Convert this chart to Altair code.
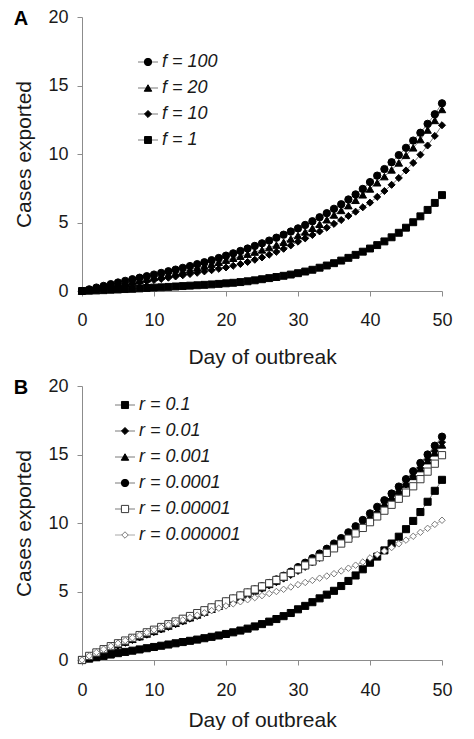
import altair as alt
import pandas as pd

days = list(range(51))

# ---------------- Panel A ----------------
f_labels = ["f = 100", "f = 20", "f = 10", "f = 1"]
f_100 = [0.00, 0.12, 0.25, 0.37, 0.50, 0.62, 0.74, 0.86, 0.97, 1.08,
         1.20, 1.32, 1.44, 1.56, 1.69, 1.82, 1.96, 2.10, 2.25, 2.41,
         2.58, 2.75, 2.92, 3.10, 3.29, 3.48, 3.68, 3.89, 4.11, 4.34,
         4.57, 4.82, 5.09, 5.38, 5.68, 6.00, 6.33, 6.68, 7.05, 7.45,
         7.95, 8.42, 8.90, 9.40, 9.92, 10.45, 10.98, 11.55, 12.20, 12.90,
         13.70]
f_20 = [0.00, 0.09, 0.19, 0.29, 0.39, 0.49, 0.59, 0.69, 0.79, 0.89,
        1.00, 1.10, 1.21, 1.32, 1.44, 1.56, 1.69, 1.82, 1.96, 2.10,
        2.25, 2.39, 2.54, 2.69, 2.84, 3.00, 3.17, 3.35, 3.56, 3.80,
        4.05, 4.31, 4.58, 4.87, 5.20, 5.55, 5.88, 6.23, 6.62, 7.02,
        7.45, 7.90, 8.35, 8.84, 9.35, 9.90, 10.45, 11.05, 11.75, 12.45,
        13.25]
f_10 = [0.00, 0.07, 0.15, 0.23, 0.31, 0.39, 0.47, 0.55, 0.63, 0.71,
        0.80, 0.88, 0.97, 1.06, 1.15, 1.24, 1.33, 1.43, 1.52, 1.62,
        1.72, 1.84, 1.97, 2.12, 2.28, 2.45, 2.65, 2.86, 3.08, 3.33,
        3.60, 3.84, 4.09, 4.35, 4.62, 4.90, 5.18, 5.48, 5.79, 6.11,
        6.45, 6.87, 7.30, 7.75, 8.25, 8.80, 9.35, 9.95, 10.62, 11.32,
        12.10]
f_1 = [0.00, 0.02, 0.04, 0.06, 0.09, 0.11, 0.14, 0.16, 0.19, 0.22,
       0.25, 0.27, 0.30, 0.33, 0.36, 0.39, 0.42, 0.45, 0.48, 0.52,
       0.56, 0.60, 0.65, 0.71, 0.78, 0.86, 0.94, 1.02, 1.11, 1.20,
       1.30, 1.42, 1.55, 1.70, 1.86, 2.03, 2.22, 2.42, 2.64, 2.87,
       3.10, 3.35, 3.62, 3.92, 4.25, 4.62, 5.02, 5.45, 5.92, 6.43,
       7.00]

# ---------------- Panel B ----------------
r_labels = ["r = 0.1", "r = 0.01", "r = 0.001", "r = 0.0001",
            "r = 0.00001", "r = 0.000001"]
r_0_1 = [0.00, 0.10, 0.20, 0.30, 0.40, 0.50, 0.59, 0.68, 0.77, 0.86,
         0.95, 1.04, 1.13, 1.22, 1.31, 1.40, 1.49, 1.59, 1.69, 1.79,
         1.90, 2.02, 2.15, 2.29, 2.45, 2.62, 2.80, 2.99, 3.20, 3.43,
         3.70, 3.95, 4.22, 4.50, 4.77, 5.05, 5.40, 5.77, 6.17, 6.62,
         7.10, 7.55, 8.00, 8.50, 9.00, 9.55, 10.15, 10.80, 11.55, 12.35,
         13.15]
r_0_01 = [0.00, 0.22, 0.44, 0.65, 0.86, 1.06, 1.26, 1.46, 1.65, 1.85,
          2.04, 2.23, 2.42, 2.62, 2.82, 3.02, 3.22, 3.43, 3.64, 3.86,
          4.08, 4.30, 4.52, 4.74, 4.97, 5.20, 5.44, 5.68, 5.94, 6.21,
          6.50, 6.80, 7.12, 7.45, 7.80, 8.16, 8.55, 8.96, 9.39, 9.84,
          10.30, 10.77, 11.25, 11.75, 12.27, 12.82, 13.40, 14.00, 14.62, 15.25,
          15.90]
r_0_001 = [0.00, 0.25, 0.48, 0.70, 0.91, 1.11, 1.31, 1.51, 1.70, 1.90,
           2.09, 2.29, 2.48, 2.68, 2.88, 3.08, 3.29, 3.50, 3.71, 3.93,
           4.15, 4.37, 4.59, 4.82, 5.05, 5.28, 5.52, 5.77, 6.04, 6.33,
           6.63, 6.95, 7.27, 7.61, 7.96, 8.32, 8.70, 9.10, 9.52, 9.96,
           10.42, 10.88, 11.35, 11.83, 12.33, 12.85, 13.40, 13.97, 14.55, 15.12,
           15.70]
r_0_0001 = [0.00, 0.28, 0.52, 0.75, 0.97, 1.18, 1.38, 1.58, 1.78, 1.98,
            2.18, 2.38, 2.58, 2.78, 2.98, 3.18, 3.39, 3.60, 3.82, 4.04,
            4.26, 4.48, 4.70, 4.92, 5.15, 5.38, 5.62, 5.88, 6.15, 6.45,
            6.78, 7.10, 7.43, 7.77, 8.12, 8.50, 8.90, 9.32, 9.76, 10.22,
            10.70, 11.18, 11.66, 12.15, 12.66, 13.20, 13.78, 14.38, 15.00, 15.64,
            16.30]
r_0_00001 = [0.00, 0.30, 0.55, 0.79, 1.01, 1.22, 1.42, 1.62, 1.82, 2.02,
             2.21, 2.41, 2.61, 2.81, 3.01, 3.21, 3.42, 3.63, 3.84, 4.06,
             4.28, 4.49, 4.71, 4.93, 5.15, 5.37, 5.60, 5.84, 6.09, 6.35,
             6.62, 6.90, 7.19, 7.50, 7.82, 8.15, 8.50, 8.86, 9.24, 9.64,
             10.06, 10.48, 10.90, 11.33, 11.77, 12.22, 12.68, 13.20, 13.75, 14.33,
             14.95]
r_0_000001 = [0.00, 0.30, 0.55, 0.79, 1.01, 1.22, 1.42, 1.62, 1.82, 2.01,
              2.20, 2.38, 2.56, 2.74, 2.92, 3.10, 3.27, 3.44, 3.61, 3.78,
              3.95, 4.10, 4.25, 4.40, 4.55, 4.70, 4.85, 5.00, 5.16, 5.33,
              5.50, 5.66, 5.81, 5.97, 6.13, 6.30, 6.50, 6.70, 6.92, 7.15,
              7.45, 7.70, 7.95, 8.21, 8.48, 8.75, 9.03, 9.32, 9.61, 9.90,
              10.20]

x_ticks = [0, 10, 20, 30, 40, 50]
y_ticks = [0, 5, 10, 15, 20]

FONT = "Liberation Sans"
AXIS_GRAY = "#8c8c8c"
TEXT = "#1a1a1a"


def to_long(labels, series):
    rows = []
    for lab, vals in zip(labels, series):
        for d, v in zip(days, vals):
            rows.append({"series": lab, "day": d, "cases": v})
    return pd.DataFrame(rows)


def panel(labels, series, letter, shapes, fills, strokes, sizes, line_colors,
          leg_x, leg_rows, x_label_pad, x_title_pad):
    df = to_long(labels, series)
    leg_df = pd.DataFrame({"series": labels, "rank": list(range(len(labels)))})
    let_df = pd.DataFrame({"letter": [letter]})

    x = alt.X("day:Q", scale=alt.Scale(domain=[0, 50], nice=False, zero=False),
              axis=alt.Axis(values=x_ticks, title="Day of outbreak", labelFlush=False,
                            labelPadding=x_label_pad, titlePadding=x_title_pad))
    y = alt.Y("cases:Q", scale=alt.Scale(domain=[0, 20], nice=False),
              axis=alt.Axis(values=y_ticks, title="Cases exported", labelFlush=False,
                            labelPadding=9, titlePadding=13))
    color = alt.Color("series:N", scale=alt.Scale(domain=labels, range=line_colors), legend=None)
    shape = alt.Shape("series:N", scale=alt.Scale(domain=labels, range=shapes), legend=None)
    fill = alt.Fill("series:N", scale=alt.Scale(domain=labels, range=fills), legend=None)
    stroke = alt.Stroke("series:N", scale=alt.Scale(domain=labels, range=strokes), legend=None)
    size = alt.Size("series:N", scale=alt.Scale(type="ordinal", domain=labels, range=sizes), legend=None)

    lines = alt.Chart(df).mark_line(strokeWidth=1).encode(
        x=x, y=y, color=color, detail="series:N")
    pts = alt.Chart(df).mark_point(filled=True, opacity=1, strokeWidth=1).encode(
        x=x, y=y, shape=shape, fill=fill, stroke=stroke, size=size)

    ly = alt.Y("rank:Q",
               scale=alt.Scale(domain=[0, len(labels) - 1], range=leg_rows,
                               nice=False, zero=False), axis=None)
    lx0, lx1 = leg_x
    lrule = alt.Chart(leg_df).mark_rule(strokeWidth=1).encode(
        x=alt.value(lx0), x2=alt.value(lx1), y=ly, color=color)
    lpts = alt.Chart(leg_df).mark_point(filled=True, opacity=1, strokeWidth=1).encode(
        x=alt.value((lx0 + lx1) / 2), y=ly, shape=shape, fill=fill, stroke=stroke, size=size)
    ltxt = alt.Chart(leg_df).mark_text(
        align="left", baseline="middle", font=FONT, fontSize=18,
        fontStyle="italic", color=TEXT).encode(
        x=alt.value(lx1 + 4), y=ly, text="series:N")
    ltr = alt.Chart(let_df).mark_text(
        align="center", baseline="middle", font=FONT, fontSize=20,
        fontWeight="bold", color="#000000").encode(
        x=alt.value(-61), y=alt.value(1.5), text="letter:N")

    data_layer = alt.layer(lines, pts)
    legend_layer = alt.layer(lrule, lpts, ltxt, ltr)
    return alt.layer(data_layer, legend_layer).resolve_scale(y="independent").properties(
        width=360, height=274)


panel_a = panel(
    f_labels, [f_100, f_20, f_10, f_1], "A",
    shapes=["circle", "triangle-up", "diamond", "square"],
    fills=["#000000", "#000000", "#000000", "#000000"],
    strokes=["#000000", "#000000", "#000000", "#000000"],
    sizes=[54, 56, 50, 48],
    line_colors=["#7a7a7a", "#7a7a7a", "#7a7a7a", "#7a7a7a"],
    leg_x=(56, 76), leg_rows=[45, 123],
    x_label_pad=15, x_title_pad=17)

panel_b = panel(
    r_labels, [r_0_1, r_0_01, r_0_001, r_0_0001, r_0_00001, r_0_000001], "B",
    shapes=["square", "diamond", "triangle-up", "circle", "square", "diamond"],
    fills=["#000000", "#000000", "#000000", "#000000", "#ffffff", "#ffffff"],
    strokes=["#000000", "#000000", "#000000", "#000000", "#3a3a3a", "#7a7a7a"],
    sizes=[50, 50, 56, 54, 52, 42],
    line_colors=["#7a7a7a", "#7a7a7a", "#7a7a7a", "#7a7a7a", "#7a7a7a", "#a8a8a8"],
    leg_x=(33, 53), leg_rows=[19, 149],
    x_label_pad=16, x_title_pad=10)

chart = alt.vconcat(panel_a, panel_b, spacing=95, bounds="flush").resolve_scale(
    color="independent", shape="independent", fill="independent",
    stroke="independent", size="independent"
).configure_axis(
    grid=False, domainColor=AXIS_GRAY, tickColor=AXIS_GRAY, tickSize=5,
    domainWidth=1, tickWidth=1,
    labelFont=FONT, labelFontSize=18, labelColor=TEXT,
    titleFont=FONT, titleFontSize=21, titleFontWeight="normal", titleColor=TEXT,
).configure_view(stroke=None).properties(
    padding={"left": 5, "top": 0, "right": 0, "bottom": 0})

chart.save("out.html", embed_options={"renderer": "svg", "actions": False})
